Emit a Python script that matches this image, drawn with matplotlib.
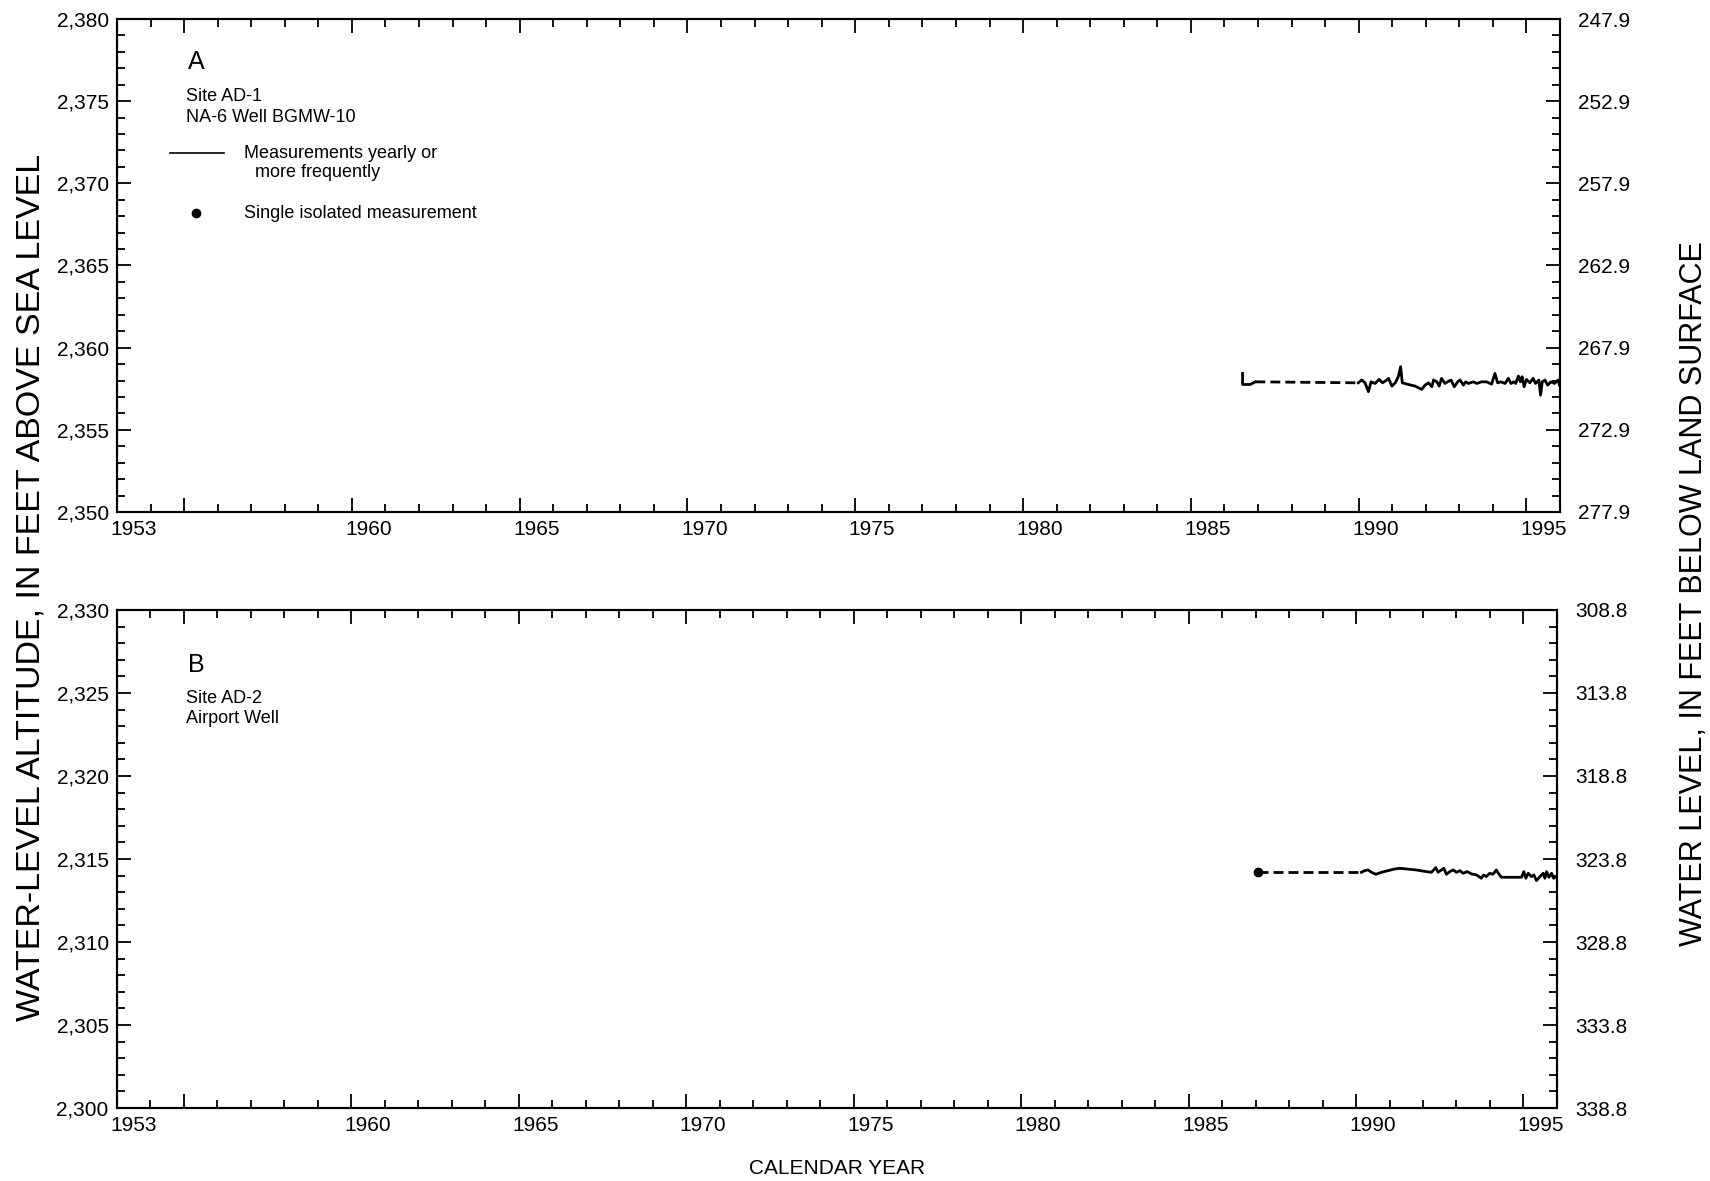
import numpy as np
import matplotlib
matplotlib.use("Agg")
import matplotlib.pyplot as plt
from matplotlib.ticker import FixedLocator, FuncFormatter, NullFormatter

plt.rcParams.update({
    "font.family": ["Liberation Sans", "DejaVu Sans"],
    "font.size": 15,
    "axes.linewidth": 1.5,
})

# Eje de tiempo comun
year_start, year_end = 1953, 1996
year_labels = [1953, 1960, 1965, 1970, 1975, 1980, 1985, 1990, 1995]

# Panel A: Site AD-1, NA-6 Well BGMW-10
site_a = ["Site AD-1", "NA-6 Well BGMW-10"]
land_a = 2627.9
ylim_a = (2350, 2380)
years_a = [1986.54, 1986.54, 1986.77, 1986.92,
           1989.99, 1990.09, 1990.19, 1990.29, 1990.37, 1990.49, 1990.61, 1990.71,
           1990.81, 1990.89, 1990.99, 1991.09, 1991.18, 1991.25, 1991.30, 1991.48,
           1991.68, 1991.88, 1991.98, 1992.08, 1992.18, 1992.23, 1992.33, 1992.40,
           1992.47, 1992.57, 1992.65, 1992.75, 1992.85, 1992.95, 1993.02, 1993.12,
           1993.19, 1993.27, 1993.42, 1993.52, 1993.66, 1993.81, 1993.96, 1994.06,
           1994.14, 1994.24, 1994.36, 1994.46, 1994.54, 1994.62, 1994.68, 1994.76,
           1994.82, 1994.87, 1994.93, 1995.00, 1995.10, 1995.20, 1995.27, 1995.37,
           1995.42, 1995.47, 1995.55, 1995.63, 1995.73, 1995.83, 1995.95, 1995.98]
levels_a = [2358.43, 2357.76, 2357.76, 2357.92,
            2357.86, 2358.03, 2357.86, 2357.32, 2357.92, 2357.82, 2358.07, 2357.86,
            2357.99, 2358.13, 2357.66, 2357.86, 2358.23, 2358.84, 2357.86, 2357.76,
            2357.66, 2357.46, 2357.72, 2357.86, 2357.62, 2358.03, 2357.92, 2357.66,
            2358.13, 2357.82, 2357.92, 2358.03, 2357.62, 2357.92, 2358.03, 2357.72,
            2357.92, 2357.82, 2357.92, 2357.82, 2357.92, 2357.92, 2357.78, 2358.43,
            2357.86, 2357.92, 2357.82, 2358.13, 2357.82, 2357.92, 2357.82, 2358.27,
            2357.92, 2358.23, 2357.62, 2358.07, 2357.86, 2358.13, 2357.82, 2358.03,
            2357.11, 2357.92, 2358.03, 2357.72, 2357.92, 2357.82, 2358.03, 2357.72]

# Panel B: Site AD-2, Airport Well
site_b = ["Site AD-2", "Airport Well"]
land_b = 2638.8
ylim_b = (2300, 2330)
years_b = [1987.06,
           1990.16, 1990.26, 1990.36, 1990.46, 1990.59, 1990.76, 1990.96, 1991.16,
           1991.31, 1991.50, 1991.80, 1992.10, 1992.25, 1992.32, 1992.38, 1992.45,
           1992.55, 1992.62, 1992.70, 1992.80, 1992.90, 1993.00, 1993.10, 1993.20,
           1993.32, 1993.45, 1993.60, 1993.74, 1993.81, 1993.89, 1993.99, 1994.09,
           1994.19, 1994.25, 1994.34, 1994.49, 1994.69, 1994.94, 1995.01, 1995.07,
           1995.14, 1995.24, 1995.31, 1995.39, 1995.49, 1995.59, 1995.64, 1995.69,
           1995.76, 1995.84, 1995.90, 1995.98]
levels_b = [2314.20,
            2314.20, 2314.30, 2314.34, 2314.20, 2314.08, 2314.20, 2314.30, 2314.40,
            2314.44, 2314.40, 2314.34, 2314.24, 2314.20, 2314.34, 2314.48, 2314.20,
            2314.34, 2314.44, 2314.08, 2314.24, 2314.34, 2314.20, 2314.30, 2314.14,
            2314.24, 2314.10, 2314.04, 2313.84, 2314.04, 2313.94, 2314.14, 2314.08,
            2314.34, 2314.14, 2313.90, 2313.90, 2313.90, 2313.90, 2314.24, 2313.84,
            2314.14, 2313.94, 2314.04, 2313.70, 2313.94, 2314.14, 2313.84, 2314.24,
            2313.90, 2314.14, 2313.84, 2313.94]

legend_lines = ["Measurements yearly or", "more frequently"]
legend_dot = "Single isolated measurement"


def draw_series(ax, years, levels):
    years = np.asarray(years)
    levels = np.asarray(levels)
    # cortar donde hay huecos de mas de un anio -> linea discontinua
    cuts = np.where(np.diff(years) > 1.5)[0] + 1
    starts = np.r_[0, cuts]
    ends = np.r_[cuts, len(years)]
    for s, e in zip(starts, ends):
        if e - s == 1:
            ax.plot(years[s], levels[s], "o", color="black", ms=6)
        else:
            ax.plot(years[s:e], levels[s:e], "-", color="black", lw=2)
    for c in cuts:
        ax.plot(years[c - 1:c + 1], levels[c - 1:c + 1], color="black",
                lw=2, dashes=(3.6, 1.8))


def setup_panel(ax, ylim, land):
    ax.set_xlim(year_start, year_end)
    ax.set_ylim(*ylim)
    ax.xaxis.set_major_locator(FixedLocator(np.arange(1955, 1996, 5)))
    ax.xaxis.set_minor_locator(FixedLocator(np.arange(1954, 1996, 1)))
    ax.xaxis.set_major_formatter(NullFormatter())
    ax.yaxis.set_major_locator(FixedLocator(np.arange(ylim[0], ylim[1] + 1, 5)))
    ax.yaxis.set_minor_locator(FixedLocator(np.arange(ylim[0], ylim[1] + 1, 1)))
    ax.yaxis.set_major_formatter(FuncFormatter(lambda v, p: f"{v:,.0f}"))
    ax.tick_params(axis="x", which="both", direction="in", top=True, width=1.3)
    ax.tick_params(axis="x", which="major", length=10)
    ax.tick_params(axis="x", which="minor", length=6)
    ax.tick_params(axis="y", which="both", direction="in", right=False, width=1.3)
    ax.tick_params(axis="y", which="major", length=10, pad=6, labelsize=15)
    ax.tick_params(axis="y", which="minor", length=6)
    for yr in year_labels:
        ax.annotate(str(yr), xy=(yr + 0.5, 0), xycoords=("data", "axes fraction"),
                    xytext=(0, -6), textcoords="offset points",
                    ha="center", va="top", fontsize=15)

    ax2 = ax.twinx()
    ax2.set_ylim(land - ylim[0], land - ylim[1])
    depth_top = land - ylim[1]
    ax2.yaxis.set_major_locator(FixedLocator(np.arange(depth_top, depth_top + 30.01, 5)))
    ax2.yaxis.set_minor_locator(FixedLocator(np.arange(depth_top, depth_top + 30.01, 1)))
    ax2.yaxis.set_major_formatter(FuncFormatter(lambda v, p: f"{v:.1f}"))
    ax2.tick_params(axis="y", which="both", direction="in", width=1.3)
    ax2.tick_params(axis="y", which="major", length=10, pad=13, labelsize=15)
    ax2.tick_params(axis="y", which="minor", length=6)
    return ax2


fig = plt.figure(figsize=(17.1, 11.81), dpi=100)
ax_a = fig.add_axes([0.0684, 0.5665, 0.8439, 0.4174])
ax_b = fig.add_axes([0.0684, 0.0618, 0.8421, 0.4217])

setup_panel(ax_a, ylim_a, land_a)
setup_panel(ax_b, ylim_b, land_b)
draw_series(ax_a, years_a, levels_a)
draw_series(ax_b, years_b, levels_b)

# Textos del panel A
ax_a.text(0.049, 0.913, "A", transform=ax_a.transAxes, fontsize=18, va="center")
ax_a.text(0.048, 0.842, site_a[0], transform=ax_a.transAxes, fontsize=13, va="center")
ax_a.text(0.048, 0.801, site_a[1], transform=ax_a.transAxes, fontsize=13, va="center")
ax_a.plot([0.037, 0.074], [0.728, 0.728], color="black", lw=1.2,
          transform=ax_a.transAxes)
ax_a.text(0.088, 0.728, legend_lines[0], transform=ax_a.transAxes, fontsize=13, va="center")
ax_a.text(0.096, 0.688, legend_lines[1], transform=ax_a.transAxes, fontsize=13, va="center")
ax_a.plot([0.055], [0.606], "o", color="black", ms=6, transform=ax_a.transAxes)
ax_a.text(0.088, 0.606, legend_dot, transform=ax_a.transAxes, fontsize=13, va="center")

# Textos del panel B
ax_b.text(0.049, 0.890, "B", transform=ax_b.transAxes, fontsize=18, va="center")
ax_b.text(0.048, 0.823, site_b[0], transform=ax_b.transAxes, fontsize=13, va="center")
ax_b.text(0.048, 0.783, site_b[1], transform=ax_b.transAxes, fontsize=13, va="center")

fig.text(0.018, 0.503, "WATER-LEVEL ALTITUDE, IN FEET ABOVE SEA LEVEL",
         rotation=90, ha="center", va="center", fontsize=24.5)
fig.text(0.9906, 0.497, "WATER LEVEL, IN FEET BELOW LAND SURFACE",
         rotation=90, ha="center", va="center", fontsize=22)
fig.text(0.4895, 0.0102, "CALENDAR YEAR", ha="center", va="center", fontsize=15)

fig.savefig("out.png", dpi=100)
